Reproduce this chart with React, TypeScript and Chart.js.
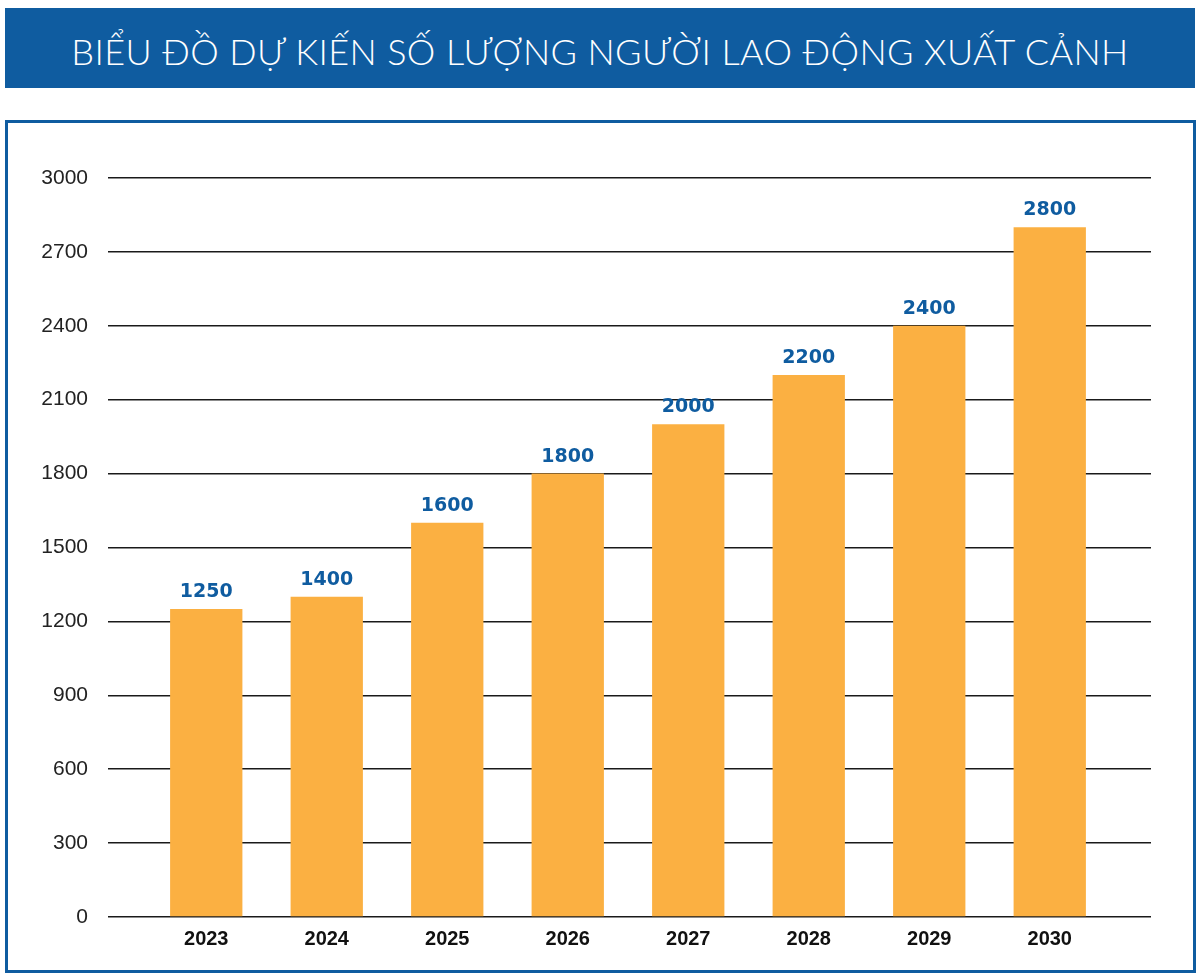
import React, { useEffect, useRef } from "react";
import { Chart, registerables } from "chart.js";

Chart.register(...registerables);

const TITLE = "BIỂU ĐỒ DỰ KIẾN SỐ LƯỢNG NGƯỜI LAO ĐỘNG XUẤT CẢNH";
const years = ["2023", "2024", "2025", "2026", "2027", "2028", "2029", "2030"];
const barValues = [1250, 1300, 1600, 1800, 2000, 2200, 2400, 2800];
const valueLabels = ["1250", "1400", "1600", "1800", "2000", "2200", "2400", "2800"];
const yMin = 0;
const yMax = 3000;
const yStep = 300;

const BLUE = "#0F5CA0";
const BAR = "#FBB042";

const valueLabelPlugin = {
  id: "valueLabels",
  afterDatasetsDraw(chart: any) {
    const ctx = chart.ctx;
    const meta = chart.getDatasetMeta(0);
    ctx.save();
    ctx.fillStyle = BLUE;
    ctx.font = "bold 19px 'DejaVu Sans'";
    ctx.textAlign = "center";
    ctx.textBaseline = "alphabetic";
    meta.data.forEach((bar: any, i: number) => {
      ctx.fillText(valueLabels[i], bar.x, bar.y - 12);
    });
    ctx.restore();
  },
};

export default function App() {
  const ref = useRef<HTMLCanvasElement | null>(null);

  useEffect(() => {
    if (!ref.current) return;
    const chart = new Chart(ref.current, {
      type: "bar",
      data: {
        labels: years,
        datasets: [
          {
            data: barValues,
            backgroundColor: BAR,
            borderWidth: 0,
            categoryPercentage: 1,
            barPercentage: 0.6,
          },
        ],
      },
      options: {
        animation: false,
        responsive: false,
        maintainAspectRatio: false,
        layout: { padding: { top: 48, left: 0, right: 0, bottom: 0 } },
        plugins: {
          legend: { display: false },
          tooltip: { enabled: false },
          title: { display: false },
        },
        scales: {
          x: {
            grid: { display: false },
            border: { display: false },
            ticks: {
              color: "#111",
              padding: 2,
              font: { family: "'Liberation Sans'", size: 20, weight: "bold" },
            },
            afterFit: (s: any) => {
              s.height = 53;
            },
          },
          y: {
            position: "left",
            min: yMin,
            max: yMax,
            grid: {
              color: "#1a1a1a",
              lineWidth: 1.6,
              tickLength: 38,
              drawTicks: true,
            },
            border: { display: false },
            ticks: {
              stepSize: yStep,
              color: "#222",
              padding: 20,
              font: { family: "'Liberation Sans'", size: 21 },
              callback: (v: any) => String(v),
            },
            afterFit: (s: any) => {
              s.width = 146;
            },
          },
          y2: {
            position: "right",
            min: yMin,
            max: yMax,
            grid: {
              color: "#1a1a1a",
              lineWidth: 1.6,
              tickLength: 41,
              drawTicks: true,
              drawOnChartArea: false,
            },
            border: { display: false },
            ticks: { stepSize: yStep, display: false },
            afterFit: (s: any) => {
              s.width = 90;
            },
          },
        },
      },
      plugins: [valueLabelPlugin],
    });
    return () => chart.destroy();
  }, []);

  return (
    <div style={{ position: "absolute", left: 0, top: 0, width: 1200, height: 980, background: "#fff" }}>
      <div
        style={{
          position: "absolute",
          left: 5,
          top: 8,
          width: 1190,
          height: 80,
          boxSizing: "border-box",
          paddingTop: 6,
          background: BLUE,
          color: "#fff",
          display: "flex",
          alignItems: "center",
          justifyContent: "center",
          fontFamily: "Lato, 'Open Sans', sans-serif",
          fontWeight: 300,
          fontSize: 36,
          letterSpacing: 0.4,
          whiteSpace: "nowrap",
        }}
      >
        {TITLE}
      </div>
      <div
        style={{
          position: "absolute",
          left: 5,
          top: 120,
          width: 1191,
          height: 853,
          border: `3px solid ${BLUE}`,
          boxSizing: "border-box",
        }}
      />
      <canvas
        ref={ref}
        width={1200}
        height={840}
        style={{ position: "absolute", left: 0, top: 130, width: 1200, height: 840 }}
      />
    </div>
  );
}
